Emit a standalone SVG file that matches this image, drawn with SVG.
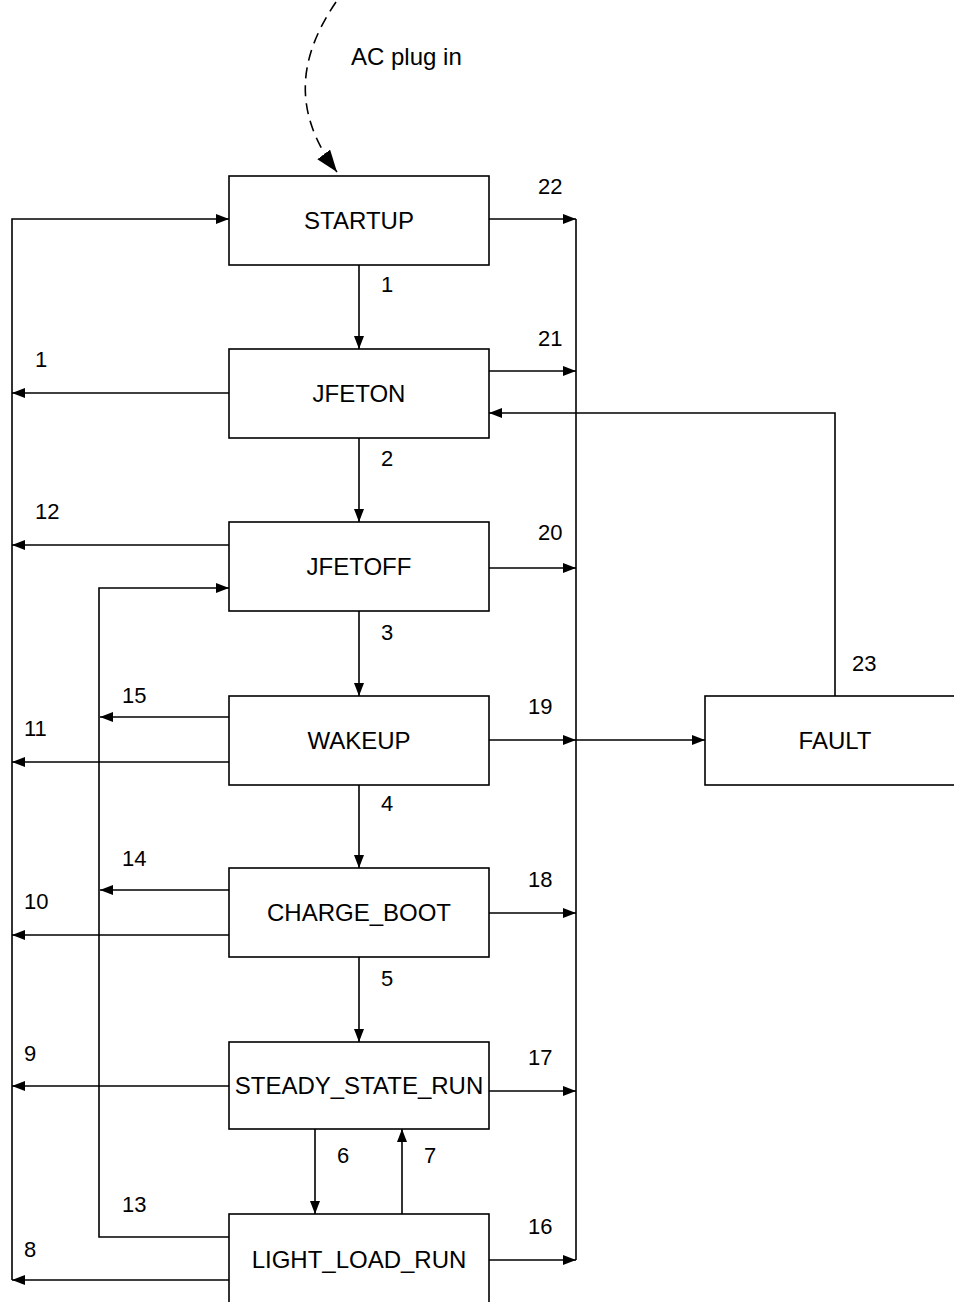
<svg xmlns="http://www.w3.org/2000/svg" width="954" height="1302" viewBox="0 0 954 1302">
<style>
.box{fill:#fff;stroke:#000;stroke-width:1.6}
.ln{fill:none;stroke:#000;stroke-width:1.6}
.dash{fill:none;stroke:#000;stroke-width:1.6;stroke-dasharray:11 7}
.t{font-family:"Liberation Sans",Arial,sans-serif;font-size:24px;fill:#000;text-anchor:middle}
.n{font-family:"Liberation Sans",Arial,sans-serif;font-size:22px;fill:#000}
</style>
<defs>
<marker id="a" markerUnits="userSpaceOnUse" markerWidth="14" markerHeight="11" refX="13" refY="5" orient="auto"><path d="M0,0 L13,5 L0,10 z" fill="#000"/></marker>
<marker id="b" markerUnits="userSpaceOnUse" markerWidth="24" markerHeight="18" refX="22" refY="8" orient="auto"><path d="M0,0 L22,8 L0,16 z" fill="#000"/></marker>
</defs>
<rect width="954" height="1302" fill="#fff"/>
<g id="connectors">
<path class="dash" d="M336,2 C300,55 290,110 337,172" marker-end="url(#b)"/>
<path class="ln" d="M12,1280 L12,219 L229,219" marker-end="url(#a)"/>
<path class="ln" d="M576,219 L576,1260"/>
<path class="ln" d="M229,1237 L99,1237 L99,588 L229,588" marker-end="url(#a)"/>
<path class="ln" d="M359,265 L359,349" marker-end="url(#a)"/>
<path class="ln" d="M359,438 L359,522" marker-end="url(#a)"/>
<path class="ln" d="M359,611 L359,696" marker-end="url(#a)"/>
<path class="ln" d="M359,785 L359,868" marker-end="url(#a)"/>
<path class="ln" d="M359,957 L359,1042" marker-end="url(#a)"/>
<path class="ln" d="M315,1129 L315,1214" marker-end="url(#a)"/>
<path class="ln" d="M402,1214 L402,1129" marker-end="url(#a)"/>
<path class="ln" d="M229,393 L12,393" marker-end="url(#a)"/>
<path class="ln" d="M229,545 L12,545" marker-end="url(#a)"/>
<path class="ln" d="M229,717 L100,717" marker-end="url(#a)"/>
<path class="ln" d="M229,762 L12,762" marker-end="url(#a)"/>
<path class="ln" d="M229,890 L100,890" marker-end="url(#a)"/>
<path class="ln" d="M229,935 L12,935" marker-end="url(#a)"/>
<path class="ln" d="M229,1086 L12,1086" marker-end="url(#a)"/>
<path class="ln" d="M229,1280 L12,1280" marker-end="url(#a)"/>
<path class="ln" d="M489,219 L576,219" marker-end="url(#a)"/>
<path class="ln" d="M489,371 L576,371" marker-end="url(#a)"/>
<path class="ln" d="M489,568 L576,568" marker-end="url(#a)"/>
<path class="ln" d="M489,740 L576,740" marker-end="url(#a)"/>
<path class="ln" d="M576,740 L705,740" marker-end="url(#a)"/>
<path class="ln" d="M489,913 L576,913" marker-end="url(#a)"/>
<path class="ln" d="M489,1091 L576,1091" marker-end="url(#a)"/>
<path class="ln" d="M489,1260 L576,1260" marker-end="url(#a)"/>
<path class="ln" d="M835,696 L835,413 L489,413" marker-end="url(#a)"/>
</g>
<g id="labels">
<text class="n" x="351" y="65" style="font-size:24px">AC plug in</text>
<text class="n" x="538" y="194">22</text>
<text class="n" x="381" y="292">1</text>
<text class="n" x="538" y="346">21</text>
<text class="n" x="35" y="367">1</text>
<text class="n" x="381" y="466">2</text>
<text class="n" x="35" y="519">12</text>
<text class="n" x="538" y="540">20</text>
<text class="n" x="381" y="640">3</text>
<text class="n" x="852" y="671">23</text>
<text class="n" x="122" y="703">15</text>
<text class="n" x="528" y="714">19</text>
<text class="n" x="24" y="736">11</text>
<text class="n" x="381" y="811">4</text>
<text class="n" x="122" y="866">14</text>
<text class="n" x="528" y="887">18</text>
<text class="n" x="24" y="909">10</text>
<text class="n" x="381" y="986">5</text>
<text class="n" x="24" y="1061">9</text>
<text class="n" x="528" y="1065">17</text>
<text class="n" x="337" y="1163">6</text>
<text class="n" x="424" y="1163">7</text>
<text class="n" x="122" y="1212">13</text>
<text class="n" x="528" y="1234">16</text>
<text class="n" x="24" y="1257">8</text>
</g>
<g id="startup"><rect class="box" x="229" y="176" width="260" height="89"/><text class="t" x="359" y="229">STARTUP</text></g>
<g id="jfeton"><rect class="box" x="229" y="349" width="260" height="89"/><text class="t" x="359" y="402">JFETON</text></g>
<g id="jfetoff"><rect class="box" x="229" y="522" width="260" height="89"/><text class="t" x="359" y="575">JFETOFF</text></g>
<g id="wakeup"><rect class="box" x="229" y="696" width="260" height="89"/><text class="t" x="359" y="749">WAKEUP</text></g>
<g id="charge_boot"><rect class="box" x="229" y="868" width="260" height="89"/><text class="t" x="359" y="921">CHARGE_BOOT</text></g>
<g id="steady_state_run"><rect class="box" x="229" y="1042" width="260" height="87"/><text class="t" x="359" y="1094">STEADY_STATE_RUN</text></g>
<g id="light_load_run"><rect class="box" x="229" y="1214" width="260" height="100"/><text class="t" x="359" y="1268">LIGHT_LOAD_RUN</text></g>
<g id="fault"><rect class="box" x="705" y="696" width="260" height="89"/><text class="t" x="835" y="749">FAULT</text></g>
</svg>
